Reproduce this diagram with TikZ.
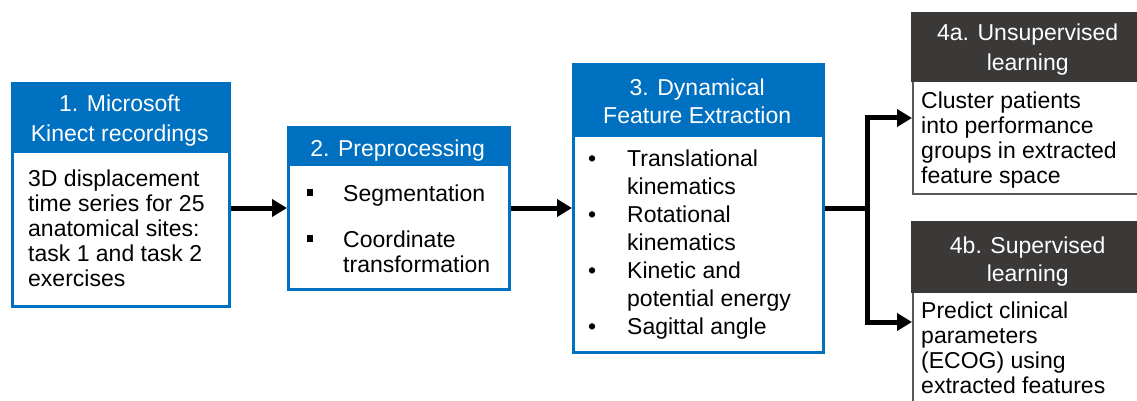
\documentclass[tikz,border=0pt]{standalone}
\usepackage{fontspec}
\setmainfont{Liberation Sans}
\usetikzlibrary{arrows.meta}
\definecolor{pblue}{HTML}{0070C0}
\definecolor{pdark}{HTML}{3B3838}
\definecolor{pgray}{HTML}{595959}
\begin{document}
\begin{tikzpicture}[x=1pt,y=-1pt,
  bluebox/.style={draw=pblue, line width=2.5pt, fill=white, anchor=north west, inner sep=0pt},
  darkbox/.style={draw=pgray, line width=2pt, fill=white, anchor=north west, inner sep=0pt},
  hdr/.style={anchor=north west, inner sep=0pt},
  bluehdr/.style={hdr, fill=pblue},
  darkhdr/.style={hdr, fill=pdark},
  hdrtext/.style={inner sep=0pt, text=white, align=center},
  body/.style={anchor=north west, inner sep=0pt, align=left},
  fsA/.style={font=\fontsize{23}{25}\selectfont},
  fsB/.style={font=\fontsize{23}{28}\selectfont},
  fsC/.style={font=\fontsize{23}{30}\selectfont},
  arr/.style={line width=5pt, -{Triangle[length=15pt,width=17pt]}},
  conn/.style={line width=5pt},
]
\clip (0,0) rectangle (1137,401);
\fill[white] (0,0) rectangle (1137,401);

% Box 1
\node[bluebox, minimum width=217pt, minimum height=223pt] (b1) at (11,82) {};
\node[bluehdr, minimum width=217pt, minimum height=71pt] (h1) at (11,82) {};
\node[hdrtext, fsC] (l1) at ([yshift=-3pt]h1.center) {1. Microsoft\\Kinect recordings};
\node[body, fsA] (t1) at (28,168.5) {\begin{tabular}{@{}l@{}}3D displacement\\time series for 25\\anatomical sites:\\task 1 and task 2\\exercises\end{tabular}};

% Box 2
\node[bluebox, minimum width=221pt, minimum height=162pt] (b2) at (287,126) {};
\node[bluehdr, minimum width=221pt, minimum height=40pt] (h2) at (287,126) {};
\node[hdrtext, fsA] (l2) at ([yshift=-4.5pt]h2.center) {2. Preprocessing};
\node[body, fsA] (t2) at (306.5,183.5) {\begin{tabular}{@{}p{36.5pt}@{}l@{}}\raisebox{5.5pt}{\rule{6.7pt}{6.7pt}} & Segmentation\\[21pt]\raisebox{5.5pt}{\rule{6.7pt}{6.7pt}} & Coordinate\\ & transformation\end{tabular}};

% Box 3
\node[bluebox, minimum width=250pt, minimum height=288pt] (b3) at (572,63) {};
\node[bluehdr, minimum width=250pt, minimum height=74pt] (h3) at (572,63) {};
\node[hdrtext, fsB] (l3) at ([yshift=-1.5pt]h3.center) {3. Dynamical\\Feature Extraction};
\node[body, fsB] (t3) at (588,146.4) {\begin{tabular}{@{}p{39pt}@{}l@{}}\textbullet & Translational\\ & kinematics\\ \textbullet & Rotational\\ & kinematics\\ \textbullet & Kinetic and\\ & potential energy\\ \textbullet & Sagittal angle\end{tabular}};

% Box 4a
\node[darkbox, minimum width=232pt, minimum height=181pt] (b4a) at (912,12) {};
\node[darkhdr, minimum width=233pt, minimum height=70pt] (h4a) at (911,12) {};
\node[hdrtext, fsC] (l4a) at ([yshift=-2.5pt]h4a.center) {4a. Unsupervised\\learning};
\node[body, fsA] (t4a) at (921,90.5) {\begin{tabular}{@{}l@{}}Cluster patients\\into performance\\groups in extracted\\feature space\end{tabular}};

% Box 4b
\node[darkbox, minimum width=232pt, minimum height=200pt] (b4b) at (912,221) {};
\node[darkhdr, minimum width=233pt, minimum height=72pt] (h4b) at (911,221) {};
\node[hdrtext, fsB] (l4b) at ([yshift=-4pt]h4b.center) {4b. Supervised\\learning};
\node[body, fsA] (t4b) at (921,300.5) {\begin{tabular}{@{}l@{}}Predict clinical\\parameters\\(ECOG) using\\extracted features\end{tabular}};

% connectors
\coordinate (ya) at (0,208);
\coordinate (yb) at (0,118);
\coordinate (yc) at (0,322);
\coordinate (sp) at (867,208);
\draw[arr] (b1.east |- ya) -- (b2.west |- ya);
\draw[arr] (b2.east |- ya) -- (b3.west |- ya);
\draw[conn] (b3.east |- ya) -- (sp);
\draw[arr] (sp) |- (b4a.west |- yb);
\draw[arr] (sp) |- (b4b.west |- yc);
\end{tikzpicture}
\end{document}
